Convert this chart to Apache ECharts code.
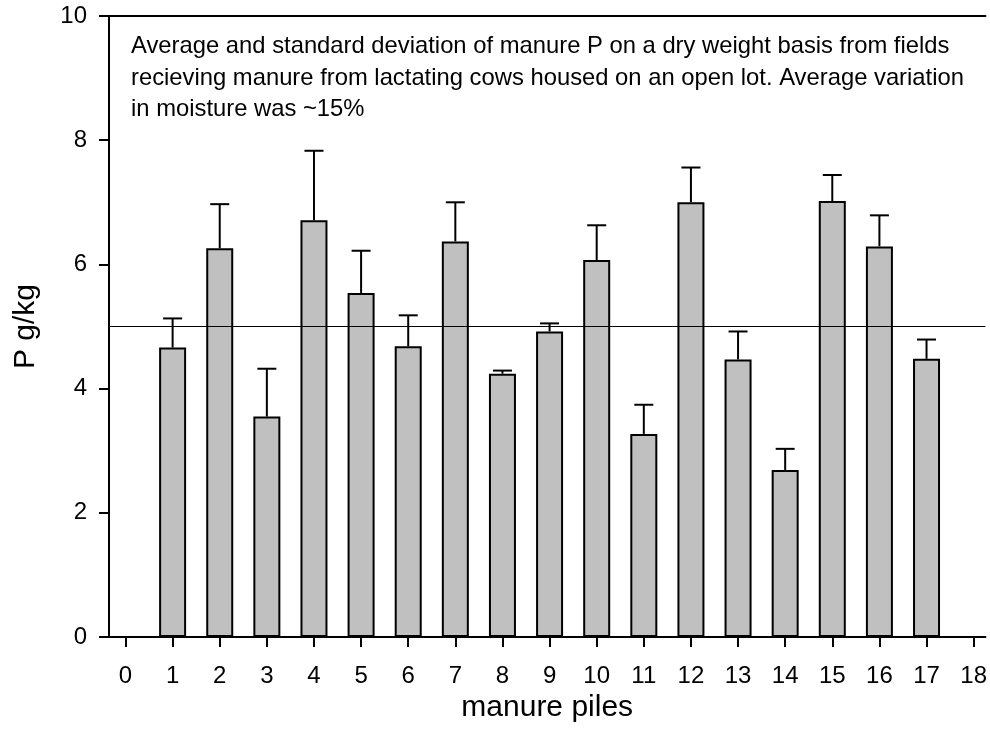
<!DOCTYPE html>
<html>
<head>
<meta charset="utf-8">
<script src="https://cdn.jsdelivr.net/npm/echarts@6/dist/echarts.min.js"></script>
<style>html,body{margin:0;padding:0;background:#fff}#c{width:990px;height:742px}</style>
</head>
<body>
<div id="c"></div>
<script>
const piles = [1, 2, 3, 4, 5, 6, 7, 8, 9, 10, 11, 12, 13, 14, 15, 16, 17];
const means = [4.66, 6.26, 3.55, 6.71, 5.54, 4.68, 6.37, 4.24, 4.92, 6.07, 3.27, 7.00, 4.47, 2.69, 7.02, 6.29, 4.48];
const sds   = [0.47, 0.71, 0.77, 1.12, 0.68, 0.50, 0.63, 0.05, 0.13, 0.56, 0.47, 0.56, 0.45, 0.34, 0.42, 0.50, 0.31];
const xTicks = [0, 1, 2, 3, 4, 5, 6, 7, 8, 9, 10, 11, 12, 13, 14, 15, 16, 17, 18];
const refValue = 5;
const note = 'Average and standard deviation of manure P on a dry weight basis from fields\nrecieving manure from lactating cows housed on an open lot. Average variation\nin moisture was ~15%';

const FONT = 'Arial, "Liberation Sans", sans-serif';
const chart = echarts.init(document.getElementById('c'), null, {renderer: 'canvas'});

const barData = piles.map((p, i) => [p, means[i]]);
const errData = piles.map((p, i) => [p, means[i], means[i] + sds[i]]);

chart.setOption({
  animation: false,
  backgroundColor: '#fff',
  title: {
    text: note,
    left: 131, top: 31, padding: 0,
    textStyle: {fontFamily: FONT, fontSize: 23.8, fontWeight: 'normal', color: '#000', lineHeight: 31.5}
  },
  grid: {left: 109, right: 3, top: 16, bottom: 105},
  xAxis: [{
    type: 'value', min: -0.35, max: 18.25,
    name: 'manure piles', nameLocation: 'middle', nameGap: 53,
    nameTextStyle: {fontFamily: FONT, fontSize: 30, color: '#000'},
    axisLine: {show: true, onZero: false, lineStyle: {color: '#000', width: 2}},
    axisTick: {show: true, inside: false, length: 10, customValues: xTicks, lineStyle: {color: '#000', width: 2}},
    axisLabel: {customValues: xTicks, margin: 27, fontFamily: FONT, fontSize: 24, color: '#000'},
    splitLine: {show: false}
  }, {
    type: 'value', position: 'top', min: -0.35, max: 18.25,
    axisLine: {show: true, onZero: false, lineStyle: {color: '#000', width: 2}},
    axisTick: {show: false}, axisLabel: {show: false}, splitLine: {show: false}
  }],
  yAxis: {
    type: 'value', min: 0, max: 10, interval: 2,
    name: 'P g/kg', nameLocation: 'middle', nameGap: 68, nameRotate: 90,
    nameTextStyle: {fontFamily: FONT, fontSize: 30, color: '#000'},
    axisLine: {show: true, onZero: false, lineStyle: {color: '#000', width: 2}},
    axisTick: {show: true, inside: false, length: 10, lineStyle: {color: '#000', width: 2}},
    axisLabel: {margin: 22, fontFamily: FONT, fontSize: 24, color: '#000'},
    splitLine: {show: false}
  },
  series: [{
    type: 'bar',
    data: barData,
    barWidth: 27,
    itemStyle: {color: '#c0c0c0', borderColor: '#000', borderWidth: 2},
    markLine: {
      silent: true, symbol: 'none', label: {show: false},
      lineStyle: {color: '#000', width: 1, type: 'solid'},
      data: [{yAxis: refValue}]
    },
    z: 2
  }, {
    type: 'custom',
    data: errData,
    renderItem: function (params, api) {
      const x = api.value(0);
      const lo = api.coord([x, api.value(1)]);
      const hi = api.coord([x, api.value(2)]);
      const hw = 9.5;
      return {
        type: 'group',
        children: [
          {type: 'line', shape: {x1: lo[0], y1: lo[1], x2: hi[0], y2: hi[1]}, style: {stroke: '#000', lineWidth: 2}},
          {type: 'line', shape: {x1: hi[0] - hw, y1: hi[1], x2: hi[0] + hw, y2: hi[1]}, style: {stroke: '#000', lineWidth: 2}}
        ]
      };
    },
    z: 3
  }]
});
</script>
</body>
</html>
